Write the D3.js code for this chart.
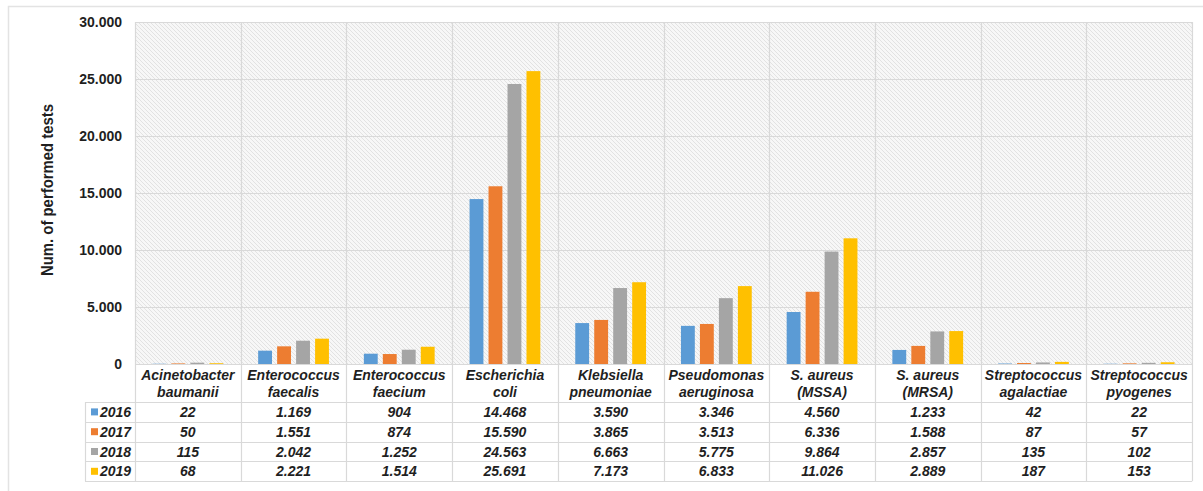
<!DOCTYPE html>
<html><head><meta charset="utf-8">
<script src="https://cdn.jsdelivr.net/npm/d3@7"></script>
<style>
html,body{margin:0;padding:0;background:#fff;}
svg{display:block;font-family:"Liberation Sans",Arial,sans-serif;}
</style></head>
<body>
<svg id="chart" width="1203" height="491"></svg>
<script>
const categories = [
  ["Acinetobacter","baumanii"],
  ["Enterococcus","faecalis"],
  ["Enterococcus","faecium"],
  ["Escherichia","coli"],
  ["Klebsiella","pneumoniae"],
  ["Pseudomonas","aeruginosa"],
  ["S. aureus","(MSSA)"],
  ["S. aureus","(MRSA)"],
  ["Streptococcus","agalactiae"],
  ["Streptococcus","pyogenes"]
];
const years = ["2016","2017","2018","2019"];
const values2016 = [22, 1169, 904, 14468, 3590, 3346, 4560, 1233, 42, 22];
const values2017 = [50, 1551, 874, 15590, 3865, 3513, 6336, 1588, 87, 57];
const values2018 = [115, 2042, 1252, 24563, 6663, 5775, 9864, 2857, 135, 102];
const values2019 = [68, 2221, 1514, 25691, 7173, 6833, 11026, 2889, 187, 153];
const yTicks = [0, 5000, 10000, 15000, 20000, 25000, 30000];
const colors = ["#5B9BD5", "#ED7D31", "#A5A5A5", "#FFC000"];
const yTitle = "Num. of performed tests";

const series = [values2016, values2017, values2018, values2019];
const loc = d3.formatLocale({decimal: ",", thousands: ".", grouping: [3], currency: ["", ""]});
const fmt = loc.format(",d");

const svg = d3.select("#chart");
const plotLeft = 135, plotRight = 1192, plotTop = 22, zeroY = 364;
const headerBottom = 402, rowH = 19.8;
const gridColor = "#d9d9d9";
const textColor = "#1f1f1f";

// outer frame
svg.append("rect").attr("x", 8.5).attr("y", 6.5).attr("width", 1220).attr("height", 500)
  .attr("fill", "none").attr("stroke", "#e3e3e3").attr("stroke-width", 1.5);

// hatch pattern
const defs = svg.append("defs");
const pat = defs.append("pattern").attr("id", "hatch").attr("patternUnits", "userSpaceOnUse")
  .attr("width", 4).attr("height", 4);
pat.append("rect").attr("width", 4).attr("height", 4).attr("fill", "#f7f7f7");
pat.append("path").attr("d", "M-1,-1 L5,5 M-1,3 L1,5 M3,-1 L5,1").attr("stroke", "#e2e2e2").attr("stroke-width", 1);

const x0 = d3.scaleBand().domain(d3.range(categories.length)).range([plotLeft, plotRight]).padding(0);
const x1 = d3.scaleBand().domain(d3.range(years.length)).range([0, x0.bandwidth()])
  .paddingInner(0.27).paddingOuter(0.92);
const y = d3.scaleLinear().domain([0, 30000]).range([zeroY, plotTop]);

svg.append("rect").attr("x", plotLeft).attr("y", plotTop).attr("width", plotRight - plotLeft).attr("height", zeroY - plotTop)
  .attr("fill", "url(#hatch)");

// horizontal gridlines
svg.append("g").selectAll("line").data(yTicks).join("line")
  .attr("x1", plotLeft).attr("x2", plotRight)
  .attr("y1", d => Math.round(y(d)) + 0.5).attr("y2", d => Math.round(y(d)) + 0.5)
  .attr("stroke", gridColor).attr("stroke-width", 1.2);

// y axis labels
const yAxis = d3.axisLeft(y).tickValues(yTicks).tickFormat(fmt).tickSize(0).tickPadding(13);
const ya = svg.append("g").attr("transform", `translate(${plotLeft},0)`).call(yAxis);
ya.select(".domain").remove();
ya.selectAll("text").attr("font-size", 14).attr("font-weight", "bold").attr("fill", textColor)
  .attr("font-family", "'Liberation Sans', Arial, sans-serif");

// y title
svg.append("text").attr("transform", `translate(53,190) rotate(-90)`)
  .attr("text-anchor", "middle").attr("font-size", 16).attr("font-weight", "bold").attr("fill", textColor)
  .attr("textLength", 172).attr("lengthAdjust", "spacingAndGlyphs")
  .text(yTitle);

// bars
const groups = svg.append("g").selectAll("g").data(categories.map((c, i) => i)).join("g")
  .attr("transform", i => `translate(${x0(i)},0)`);
groups.selectAll("rect").data(i => series.map((s, k) => ({k, v: s[i]}))).join("rect")
  .attr("x", d => x1(d.k)).attr("width", x1.bandwidth())
  .attr("y", d => y(d.v)).attr("height", d => zeroY - y(d.v))
  .attr("fill", d => colors[d.k]);

// vertical grid lines (through plot and table)
const tableBottom = headerBottom + rowH * years.length;
const vlines = d3.range(categories.length + 1).map(i => i < categories.length ? x0(i) : plotRight);
svg.append("g").selectAll("line").data(vlines).join("line")
  .attr("x1", d => Math.round(d) + 0.5).attr("x2", d => Math.round(d) + 0.5)
  .attr("y1", plotTop).attr("y2", tableBottom)
  .attr("stroke", gridColor).attr("stroke-width", 1.2);

// table horizontal lines
const rowLines = d3.range(years.length + 1).map(r => headerBottom + r * rowH);
svg.append("g").selectAll("line").data(rowLines).join("line")
  .attr("x1", 85).attr("x2", plotRight)
  .attr("y1", d => Math.round(d) + 0.5).attr("y2", d => Math.round(d) + 0.5)
  .attr("stroke", gridColor).attr("stroke-width", 1.2);
svg.append("line").attr("x1", 85.5).attr("x2", 85.5).attr("y1", headerBottom).attr("y2", tableBottom)
  .attr("stroke", gridColor).attr("stroke-width", 1.2);

// category header labels
const hdr = svg.append("g").selectAll("text").data(categories).join("text")
  .attr("x", (d, i) => x0(i) + x0.bandwidth() / 2)
  .attr("text-anchor", "middle").attr("font-size", 14).attr("font-weight", "bold")
  .attr("font-style", "italic").attr("fill", textColor);
hdr.append("tspan").attr("x", (d, i) => x0(i) + x0.bandwidth() / 2).attr("y", 380).text(d => d[0]);
hdr.append("tspan").attr("x", (d, i) => x0(i) + x0.bandwidth() / 2).attr("y", 397).text(d => d[1]);

// legend column + values
years.forEach((yr, r) => {
  const cy = headerBottom + r * rowH + rowH / 2;
  svg.append("rect").attr("x", 91).attr("y", cy - 3.5).attr("width", 7).attr("height", 7).attr("fill", colors[r]);
  svg.append("text").attr("x", 100).attr("y", cy + 5).attr("font-size", 14).attr("font-weight", "bold")
    .attr("font-style", "italic").attr("fill", textColor).text(yr);
  svg.append("g").selectAll("text").data(series[r]).join("text")
    .attr("x", (d, i) => x0(i) + x0.bandwidth() / 2).attr("y", cy + 5)
    .attr("text-anchor", "middle").attr("font-size", 14).attr("font-weight", "bold")
    .attr("font-style", "italic").attr("fill", textColor).text(d => fmt(d));
});
</script>
</body></html>
